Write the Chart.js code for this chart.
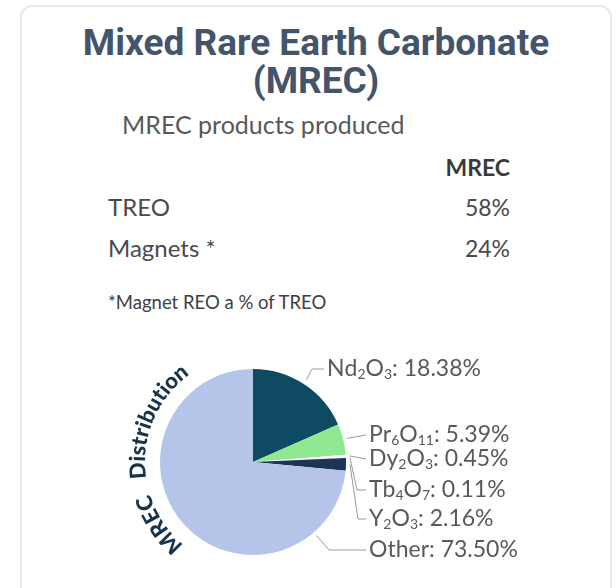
<!doctype html>
<html lang="en">
<head>
<meta charset="utf-8">
<title>Mixed Rare Earth Carbonate (MREC)</title>
<script src="https://cdn.jsdelivr.net/npm/chart.js@4.4.1/dist/chart.umd.min.js"></script>
<style>
  body { margin: 0; width: 616px; height: 588px; background: #fff; position: relative; overflow: hidden; font-family: Lato, "Open Sans", sans-serif; }
  .card { position: absolute; left: 20px; top: 5px; width: 588px; height: 600px; border: 2px solid #e9e9e9; border-radius: 12px; }
  .title { position: absolute; left: 20px; width: 592px; top: 24px; text-align: center; font: 700 37px/38px Roboto, sans-serif; color: #44546a; }
  .txt { position: absolute; white-space: nowrap; color: #4a4a4a; font-size: 23px; line-height: 24px; }
  .right { text-align: right; }
  canvas { position: absolute; left: 0; top: 0; }
</style>
</head>
<body>
  <div class="card"></div>
  <div class="title">Mixed Rare Earth Carbonate<br>(MREC)</div>
  <div class="txt" id="subtitle" style="left:122px; top:111px; font-size:25px; line-height:26px; color:#595959;"></div>
  <div id="table"></div>
  <div class="txt" id="note" style="left:108px; top:292px; font-size:18.5px; line-height:20px; color:#404040;"></div>
  <canvas id="myChart" width="616" height="588"></canvas>
  <script>
    // table values
    const subtitle = 'MREC products produced';
    const columnHeader = 'MREC';
    const rowLabels = ['TREO', 'Magnets *'];
    const mrecValues = ['58%', '24%'];
    const footnote = '*Magnet REO a % of TREO';

    // pie values
    const oxides = ['Nd₂O₃', 'Pr₆O₁₁', 'Dy₂O₃', 'Tb₄O₇', 'Y₂O₃', 'Other'];
    const shares = [18.38, 5.39, 0.45, 0.11, 2.16, 73.50];
    const arcTitle = 'MREC Distribution';

    const sliceColors = ['#0e4a62', '#90e890', '#ffffff', '#dfe6f3', '#1d3554', '#b5c4e9'];

    // callout placement, relative to the pie centre
    const callouts = [
      { dx: 74, dy: -95, gap: 5, elbow: 59 },
      { dx: 116, dy: -29, gap: 4 },
      { dx: 116, dy: -5, gap: 4 },
      { dx: 116, dy: 26, gap: 4, elbow: 104 },
      { dx: 116, dy: 55, gap: 4, elbow: 105 },
      { dx: 116, dy: 86, gap: 4, elbow: 76 }
    ];

    document.getElementById('subtitle').textContent = subtitle;
    document.getElementById('note').textContent = footnote;
    const table = document.getElementById('table');
    let html = '<div class="txt right" style="left:410px; width:100px; top:155px; font-weight:700; color:#3a3a3a;">' + columnHeader + '</div>';
    rowLabels.forEach((label, i) => {
      const top = 195 + i * 41;
      html += '<div class="txt" style="left:108px; top:' + top + 'px; font-size:24px;">' + label + '</div>';
      html += '<div class="txt right" style="left:410px; width:100px; top:' + top + 'px;">' + mrecValues[i] + '</div>';
    });
    table.innerHTML = html;

    const subDigits = '₀₁₂₃₄₅₆₇₈₉';

    // draws a formula, turning unicode subscript digits into small lowered digits
    function drawFormula(ctx, text, x, y, size) {
      let cx = x;
      for (const ch of text) {
        const k = subDigits.indexOf(ch);
        if (k >= 0) {
          ctx.font = Math.round(size * 0.62) + 'px Lato, sans-serif';
          ctx.fillText(String(k), cx, y + size * 0.12);
          cx += ctx.measureText(String(k)).width;
        } else {
          ctx.font = size + 'px Lato, sans-serif';
          ctx.fillText(ch, cx, y);
          cx += ctx.measureText(ch).width;
        }
      }
    }

    const calloutPlugin = {
      id: 'callouts',
      afterDatasetsDraw(chart) {
        const ctx = chart.ctx;
        const arcs = chart.getDatasetMeta(0).data;
        ctx.save();
        arcs.forEach((arc, i) => {
          const { x, y, startAngle, endAngle, outerRadius } =
            arc.getProps(['x', 'y', 'startAngle', 'endAngle', 'outerRadius'], true);
          const c = callouts[i];
          const tx = x + c.dx, ty = y + c.dy;
          let ang = (startAngle + endAngle) / 2;
          if (endAngle - startAngle > Math.PI) ang = Math.atan2(c.dy + 2, c.elbow);
          const r0 = outerRadius + c.gap;
          ctx.strokeStyle = '#9a9a9a';
          ctx.lineWidth = 1;
          ctx.beginPath();
          ctx.moveTo(x + r0 * Math.cos(ang), y + r0 * Math.sin(ang));
          if (c.elbow !== undefined) ctx.lineTo(x + c.elbow, ty + 2);
          ctx.lineTo(tx - 3, ty + 2);
          ctx.stroke();
          ctx.fillStyle = '#595959';
          ctx.textBaseline = 'alphabetic';
          drawFormula(ctx, oxides[i] + ': ' + shares[i].toFixed(2) + '%', tx, ty + 9, 23);
        });
        ctx.restore();
      }
    };

    // title written along the left rim of the pie, reading upwards
    const arcTextPlugin = {
      id: 'arcText',
      afterDraw(chart) {
        const ctx = chart.ctx;
        const arc = chart.getDatasetMeta(0).data[0];
        const { x, y, outerRadius } = arc.getProps(['x', 'y', 'outerRadius'], true);
        const R = outerRadius + 15;
        ctx.save();
        ctx.font = '900 22px Lato, sans-serif';
        ctx.fillStyle = '#17344a';
        ctx.textAlign = 'center';
        ctx.textBaseline = 'alphabetic';
        const chars = [...arcTitle];
        const widths = chars.map(ch => ctx.measureText(ch).width * (ch === ' ' ? 3 : 1));
        const total = widths.reduce((a, b) => a + b, 0);
        let a = Math.PI * 182 / 180 - total / R / 2;
        chars.forEach((ch, i) => {
          const mid = a + widths[i] / 2 / R;
          ctx.save();
          ctx.translate(x + R * Math.cos(mid), y + R * Math.sin(mid));
          ctx.rotate(mid + Math.PI / 2);
          ctx.fillText(ch, 0, 0);
          ctx.restore();
          a += widths[i] / R;
        });
        ctx.restore();
      }
    };

    new Chart(document.getElementById('myChart'), {
      type: 'pie',
      data: {
        labels: oxides,
        datasets: [{
          data: shares,
          backgroundColor: sliceColors,
          borderWidth: 0
        }]
      },
      options: {
        responsive: false,
        animation: false,
        events: [],
        layout: { padding: { left: 160, right: 270, top: 369, bottom: 33 } },
        plugins: {
          legend: { display: false },
          tooltip: { enabled: false }
        }
      },
      plugins: [calloutPlugin, arcTextPlugin]
    });
  </script>
</body>
</html>
